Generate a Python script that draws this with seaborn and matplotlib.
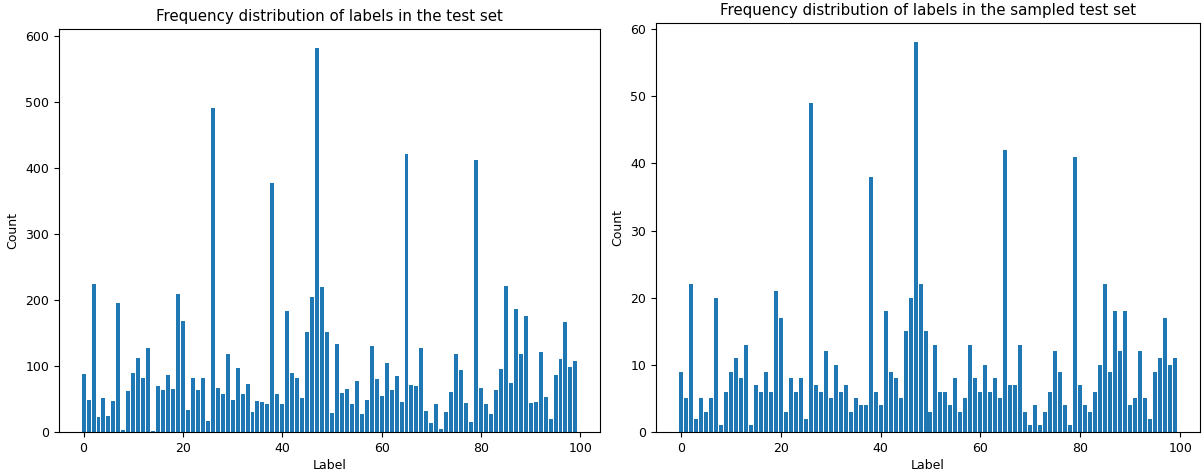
import matplotlib
matplotlib.use("Agg")
import matplotlib.pyplot as plt
import numpy as np
import seaborn as sns

labels = np.arange(100)

test_counts = [
    88, 48, 225, 23, 52, 25, 47, 196, 3, 62,
    90, 112, 82, 127, 2, 70, 63, 87, 65, 209,
    168, 33, 82, 63, 82, 16, 491, 66, 57, 119,
    48, 97, 58, 73, 31, 47, 45, 43, 377, 58,
    42, 184, 89, 82, 52, 152, 204, 582, 220, 152,
    29, 134, 59, 65, 43, 77, 28, 48, 130, 80,
    55, 105, 64, 85, 46, 421, 72, 70, 127, 32,
    13, 42, 5, 31, 61, 118, 94, 44, 15, 413,
    66, 43, 28, 63, 96, 222, 75, 186, 118, 176,
    44, 45, 121, 53, 20, 87, 110, 167, 98, 107,
]

sampled_counts = [
    9, 5, 22, 2, 5, 3, 5, 20, 1, 6,
    9, 11, 8, 13, 1, 7, 6, 9, 6, 21,
    17, 3, 8, 6, 8, 2, 49, 7, 6, 12,
    5, 10, 6, 7, 3, 5, 4, 4, 38, 6,
    4, 18, 9, 8, 5, 15, 20, 58, 22, 15,
    3, 13, 6, 6, 4, 8, 3, 5, 13, 8,
    6, 10, 6, 8, 5, 42, 7, 7, 13, 3,
    1, 4, 1, 3, 6, 12, 9, 4, 1, 41,
    7, 4, 3, 6, 10, 22, 9, 18, 12, 18,
    4, 5, 12, 5, 2, 9, 11, 17, 10, 11,
]

titles = [
    "Frequency distribution of labels in the test set",
    "Frequency distribution of labels in the sampled test set",
]

plt.rcParams["xtick.labelsize"] = 9
plt.rcParams["ytick.labelsize"] = 9
plt.rcParams["axes.labelsize"] = 9
plt.rcParams["axes.titlesize"] = 10.8

W, H = 1202, 471
fig = plt.figure(figsize=(W / 100, H / 100), dpi=100)
ax1 = fig.add_axes([59 / W, 1 - 432 / H, (600 - 59) / W, (432 - 29) / H])
ax2 = fig.add_axes([656 / W, 1 - 432 / H, (1200 - 656) / W, (432 - 23) / H])

for ax, counts, title in zip([ax1, ax2], [test_counts, sampled_counts], titles):
    sns.barplot(x=labels, y=counts, native_scale=True, color="#1f77b4",
                saturation=1, width=0.8, ax=ax)
    ax.set_xlim(-4.95, 103.95)
    ax.set_ylim(0, max(counts) * 1.05)
    ax.set_xticks([0, 20, 40, 60, 80, 100])
    ax.set_xlabel("Label", labelpad=3)
    ax.set_ylabel("Count")
    ax.set_title(title)

fig.savefig("out.png", dpi=100)
